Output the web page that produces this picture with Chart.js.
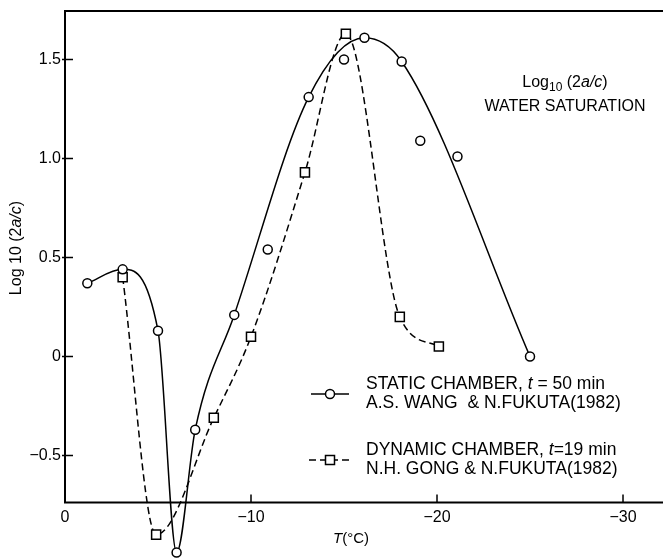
<!DOCTYPE html>
<html>
<head>
<meta charset="utf-8">
<script src="https://cdn.jsdelivr.net/npm/chart.js"></script>
<style>
  html, body { margin: 0; padding: 0; background: #fff; }
  #wrap { width: 663px; height: 559px; }
</style>
</head>
<body>
<div id="wrap"><canvas id="fig" width="663" height="559"></canvas></div>
<script>
// Static chamber, t = 50 min (A.S. Wang & N. Fukuta 1982) - circles
const staticT   = [-1.2, -3.1, -5.0, -6.0, -7.0, -9.1, -10.9, -13.1, -15.0, -16.1, -18.1, -19.1, -21.1, -25.0];
const staticLog = [0.37, 0.44, 0.13, -0.99, -0.37, 0.21, 0.54, 1.31, 1.50, 1.61, 1.49, 1.09, 1.01, 0.00];
// true where the drawn (fitted) curve passes through the point
const staticOnCurve = [true, true, true, true, true, true, false, true, false, true, true, false, false, true];

// Dynamic chamber, t = 19 min (N.H. Gong & N. Fukuta 1982) - squares
const dynamicT   = [-3.1, -4.9, -8.0, -10.0, -12.9, -15.1, -18.0, -20.1];
const dynamicLog = [0.40, -0.90, -0.31, 0.10, 0.93, 1.63, 0.20, 0.05];

const xTicks = [0, -10, -20, -30];
const xTickLabels = ['0', '\u221210', '\u221220', '\u221230'];
const yTicks = [-0.5, 0, 0.5, 1.0, 1.5];
const yTickLabels = ['\u22120.5', '0', '0.5', '1.0', '1.5'];

// the T axis sits at this log value; the two lowest points fall below it
const X_AXIS_AT = -0.737;

const FONT = '"Liberation Sans", Arial, sans-serif';

const toPoints = (xs, ys) => xs.map((x, i) => ({ x: x, y: ys[i] }));
const staticAll = toPoints(staticT, staticLog);
const staticCurve = staticAll.filter((p, i) => staticOnCurve[i]);
const dynamicAll = toPoints(dynamicT, dynamicLog);

// draw a row of text pieces with different fonts
function drawRuns(ctx, runs, x, y, align) {
  let total = 0;
  runs.forEach(r => { ctx.font = r.font; total += ctx.measureText(r.text).width; });
  let cx = align === 'center' ? x - total / 2 : x;
  ctx.textAlign = 'left';
  ctx.textBaseline = 'alphabetic';
  runs.forEach(r => {
    ctx.font = r.font;
    ctx.fillText(r.text, cx, y + (r.dy || 0));
    cx += ctx.measureText(r.text).width;
  });
}

function circle(ctx, x, y, r) {
  ctx.beginPath(); ctx.arc(x, y, r, 0, Math.PI * 2);
  ctx.fillStyle = '#fff'; ctx.fill(); ctx.stroke();
}
function square(ctx, x, y, h) {
  ctx.beginPath(); ctx.rect(x - h, y - h, 2 * h, 2 * h);
  ctx.fillStyle = '#fff'; ctx.fill(); ctx.stroke();
}

const decorations = {
  id: 'decorations',
  beforeDatasetsDraw(chart) {
    const ctx = chart.ctx, a = chart.chartArea;
    const xs = chart.scales.x, ys = chart.scales.y;
    const axisY = ys.getPixelForValue(X_AXIS_AT);
    ctx.save();
    ctx.strokeStyle = '#000';

    // frame: top, left and bottom (T axis) lines
    ctx.lineWidth = 2;
    ctx.beginPath();
    ctx.moveTo(a.right, a.top); ctx.lineTo(a.left, a.top);
    ctx.lineTo(a.left, axisY); ctx.lineTo(a.right, axisY);
    ctx.stroke();

    // tick marks pointing inwards
    ctx.lineWidth = 1.5;
    ctx.beginPath();
    xTicks.forEach(v => {
      const px = xs.getPixelForValue(v);
      ctx.moveTo(px, axisY); ctx.lineTo(px, axisY - 8);
    });
    yTicks.forEach(v => {
      const py = ys.getPixelForValue(v);
      ctx.moveTo(a.left - 3, py); ctx.lineTo(a.left + 8, py);
    });
    ctx.stroke();
    ctx.restore();
  },
  afterDraw(chart) {
    const ctx = chart.ctx;
    ctx.save();
    ctx.strokeStyle = '#000';
    ctx.fillStyle = '#000';

    // x axis title
    drawRuns(ctx, [
      { text: 'T', font: 'italic 15px ' + FONT },
      { text: '(\u00b0C)', font: '15px ' + FONT }
    ], 351, 543, 'center');

    // y axis title (rotated)
    ctx.save();
    ctx.translate(21, 248);
    ctx.rotate(-Math.PI / 2);
    drawRuns(ctx, [
      { text: 'Log 10 (2', font: '16px ' + FONT },
      { text: 'a/c', font: 'italic 16px ' + FONT },
      { text: ')', font: '16px ' + FONT }
    ], 0, 0, 'center');
    ctx.restore();

    // note in the upper right
    drawRuns(ctx, [
      { text: 'Log', font: '16px ' + FONT },
      { text: '10', font: '12px ' + FONT, dy: 4 },
      { text: ' (2', font: '16px ' + FONT },
      { text: 'a/c', font: 'italic 16px ' + FONT },
      { text: ')', font: '16px ' + FONT }
    ], 565, 87, 'center');
    drawRuns(ctx, [{ text: 'WATER SATURATION', font: '16px ' + FONT }], 565, 111, 'center');

    // legend
    const f = '17.5px ' + FONT, fi = 'italic 17.5px ' + FONT;
    ctx.lineWidth = 1.5;
    ctx.beginPath(); ctx.moveTo(311, 394); ctx.lineTo(349, 394); ctx.stroke();
    circle(ctx, 330, 394, 4.5);
    ctx.fillStyle = '#000';
    drawRuns(ctx, [
      { text: 'STATIC CHAMBER, ', font: f },
      { text: 't', font: fi },
      { text: ' = 50 min', font: f }
    ], 366, 389, 'left');
    drawRuns(ctx, [{ text: 'A.S. WANG  & N.FUKUTA(1982)', font: f }], 366, 408, 'left');

    ctx.setLineDash([7, 4]);
    ctx.beginPath(); ctx.moveTo(309, 460); ctx.lineTo(352, 460); ctx.stroke();
    ctx.setLineDash([]);
    square(ctx, 330, 460, 4.5);
    ctx.fillStyle = '#000';
    drawRuns(ctx, [
      { text: 'DYNAMIC CHAMBER, ', font: f },
      { text: 't', font: fi },
      { text: '=19 min', font: f }
    ], 366, 455, 'left');
    drawRuns(ctx, [{ text: 'N.H. GONG & N.FUKUTA(1982)', font: f }], 366, 474, 'left');

    ctx.restore();
  }
};

new Chart('fig', {
  type: 'scatter',
  data: {
    datasets: [
      {
        // static chamber markers
        data: staticAll,
        showLine: false,
        pointStyle: 'circle',
        pointRadius: 4.5,
        pointBorderWidth: 1.5,
        pointBorderColor: '#000',
        pointBackgroundColor: '#fff',
        clip: false,
        order: 0
      },
      {
        // dynamic chamber markers
        data: dynamicAll,
        showLine: false,
        pointStyle: 'rect',
        pointRadius: 6.4,
        pointBorderWidth: 1.5,
        pointBorderColor: '#000',
        pointBackgroundColor: '#fff',
        clip: false,
        order: 0
      },
      {
        // static chamber fitted curve
        data: staticCurve,
        showLine: true,
        pointRadius: 0,
        borderColor: '#000',
        borderWidth: 1.5,
        cubicInterpolationMode: 'monotone',
        clip: false,
        order: 1
      },
      {
        // dynamic chamber curve
        data: dynamicAll,
        showLine: true,
        pointRadius: 0,
        borderColor: '#000',
        borderWidth: 1.5,
        borderDash: [7, 4],
        cubicInterpolationMode: 'monotone',
        clip: false,
        order: 1
      }
    ]
  },
  options: {
    responsive: false,
    animation: false,
    devicePixelRatio: 1,
    layout: { autoPadding: false, padding: { top: 11, right: 0, left: 0, bottom: 0 } },
    plugins: {
      legend: { display: false },
      tooltip: { enabled: false }
    },
    scales: {
      x: {
        type: 'linear',
        position: { y: X_AXIS_AT },
        reverse: true,
        min: -32.15,
        max: 0,
        afterFit: s => { s.height = 0; s.paddingLeft = 0; s.paddingRight = 0; },
        afterBuildTicks: s => { s.ticks = xTicks.map(v => ({ value: v })); },
        grid: { display: false, drawTicks: false },
        border: { display: false },
        ticks: {
          color: '#000',
          font: { family: FONT, size: 16 },
          padding: 6,
          maxRotation: 0,
          autoSkip: false,
          callback: (v, i) => xTickLabels[i]
        }
      },
      y: {
        type: 'linear',
        min: -1.023,
        max: 1.745,
        afterFit: s => { s.width = 65; s.paddingTop = 0; s.paddingBottom = 0; },
        afterBuildTicks: s => { s.ticks = yTicks.map(v => ({ value: v })); },
        grid: { display: false, drawTicks: false },
        border: { display: false },
        ticks: {
          color: '#000',
          font: { family: FONT, size: 16 },
          padding: 4,
          autoSkip: false,
          callback: (v, i) => yTickLabels[i]
        }
      }
    }
  },
  plugins: [decorations]
});
</script>
</body>
</html>
